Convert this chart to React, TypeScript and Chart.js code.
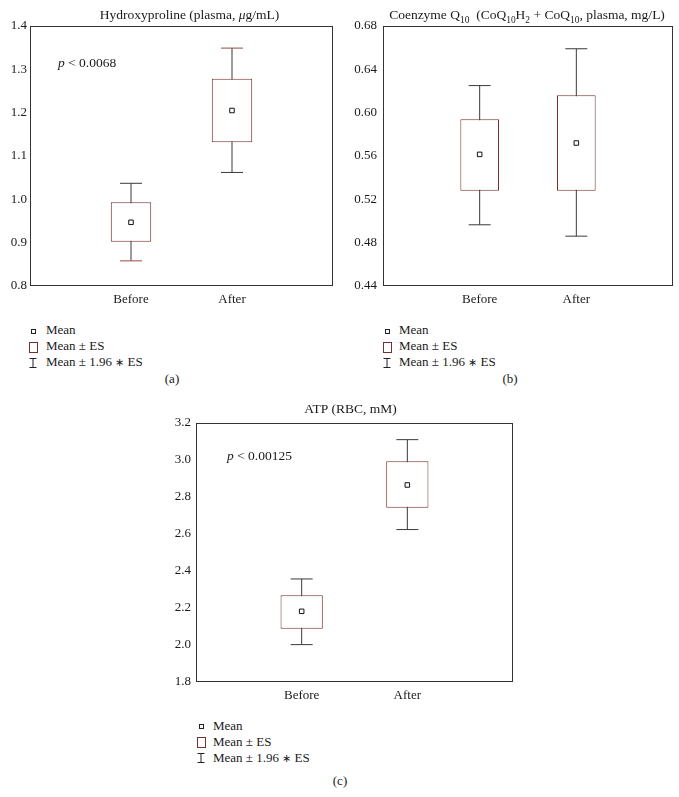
import React, { useEffect, useRef } from 'react';
import { Chart, registerables } from 'chart.js';

Chart.register(...registerables);

const FONT = '"Liberation Serif", "Times New Roman", serif';

// ---------- data ----------
const categories = ['Before', 'After'];

// (a) Hydroxyproline (plasma, µg/mL)
const hypMean = [0.947, 1.205];
const hypBoxLow = [0.902, 1.132];
const hypBoxHigh = [0.993, 1.278];
const hypWhiskLow = [0.858, 1.062];
const hypWhiskHigh = [1.037, 1.349];
const hypTicks = [0.8, 0.9, 1.0, 1.1, 1.2, 1.3, 1.4];

// (b) Coenzyme Q10 (plasma, mg/L)
const coqMean = [0.5615, 0.572];
const coqBoxLow = [0.528, 0.528];
const coqBoxHigh = [0.594, 0.616];
const coqWhiskLow = [0.4965, 0.486];
const coqWhiskHigh = [0.625, 0.659];
const coqTicks = [0.44, 0.48, 0.52, 0.56, 0.6, 0.64, 0.68];

// (c) ATP (RBC, mM)
const atpMean = [2.182, 2.865];
const atpBoxLow = [2.088, 2.742];
const atpBoxHigh = [2.269, 2.993];
const atpWhiskLow = [2.002, 2.624];
const atpWhiskHigh = [2.357, 3.11];
const atpTicks = [1.8, 2.0, 2.2, 2.4, 2.6, 2.8, 3.0, 3.2];

const legendLabels = ['Mean', 'Mean \u00b1 ES', 'Mean \u00b1 1.96 \u2217 ES'];

// ---------- styles ----------
const FRAME = '#333333';
const BOX = '#7a2e2e';
const WHISK = '#3a3a3a';
const CAP_RED = '#9a4848';

type Seg = { text: string; sub?: boolean; italic?: boolean };

function drawSegments(ctx: CanvasRenderingContext2D, segs: Seg[], x: number, y: number, center: boolean, size: number) {
  const fontFor = (s: Seg) => `${s.italic ? 'italic ' : ''}${s.sub ? size * 0.7 : size}px ${FONT}`;
  let total = 0;
  const widths = segs.map((s) => {
    ctx.font = fontFor(s);
    const w = ctx.measureText(s.text).width;
    total += w;
    return w;
  });
  let cx = center ? x - total / 2 : x;
  ctx.fillStyle = '#1a1a1a';
  ctx.textBaseline = 'alphabetic';
  ctx.textAlign = 'left';
  segs.forEach((s, i) => {
    ctx.font = fontFor(s);
    ctx.fillText(s.text, cx, s.sub ? y + size * 0.3 : y);
    cx += widths[i];
  });
}

const frameTitlePlugin = {
  id: 'frameTitle',
  afterDraw(chart: any, _args: any, opts: any) {
    const { ctx, chartArea: a } = chart;
    ctx.save();
    ctx.strokeStyle = FRAME;
    ctx.lineWidth = 1;
    const l = Math.round(a.left) + 0.5;
    const t = Math.round(a.top) + 0.5;
    const r = Math.round(a.right) - 0.5;
    const b = Math.round(a.bottom) - 0.5;
    ctx.strokeRect(l, t, r - l, b - t);
    if (opts.title) {
      drawSegments(ctx, opts.title, (a.left + a.right) / 2 + opts.titleDx, a.top - opts.titleGap, true, 13.5);
    }
    if (opts.note) {
      drawSegments(ctx, opts.note, a.left + opts.noteDx, a.top + opts.noteDy, false, 13.5);
    }
    ctx.restore();
  },
};

type PanelProps = {
  left: number; top: number; width: number; height: number;
  area: { left: number; right: number; top: number; bottom: number };
  ticks: number[]; decimals: number; yPad: number;
  mean: number[]; boxLow: number[]; boxHigh: number[]; whiskLow: number[]; whiskHigh: number[];
  title: Seg[]; titleDx: number; titleGap: number;
  note?: Seg[]; noteDx?: number; noteDy?: number;
  lowCapColors: string[]; highCapColors: string[];
};

function Panel(p: PanelProps) {
  const ref = useRef<HTMLCanvasElement | null>(null);
  useEffect(() => {
    if (!ref.current) return;
    const labels = ['', ...categories, ''];
    const pad = (arr: any[]) => [null, ...arr, null];
    const pairs = (lo: number[], hi: number[]) => pad(lo.map((v, i) => [v, hi[i]]));
    const chart = new Chart(ref.current, {
      type: 'bar',
      data: {
        labels,
        datasets: [
          {
            type: 'line',
            data: pad(p.mean) as any,
            showLine: false,
            pointStyle: 'rect',
            pointRadius: 3.2,
            pointBorderWidth: 1,
            pointBorderColor: '#111',
            pointBackgroundColor: '#fff',
            order: 1,
          } as any,
          {
            type: 'bar',
            data: pairs(p.boxLow, p.boxHigh) as any,
            backgroundColor: '#ffffff',
            borderColor: BOX,
            borderWidth: 1,
            borderSkipped: false,
            grouped: false,
            barPercentage: 0.4,
            categoryPercentage: 1,
            order: 2,
          } as any,
          {
            type: 'line',
            data: pad(p.whiskLow) as any,
            showLine: false,
            pointStyle: 'line',
            pointRadius: 11,
            pointBorderWidth: 1,
            pointBorderColor: pad(p.lowCapColors),
            order: 3,
          } as any,
          {
            type: 'line',
            data: pad(p.whiskHigh) as any,
            showLine: false,
            pointStyle: 'line',
            pointRadius: 11,
            pointBorderWidth: 1,
            pointBorderColor: pad(p.highCapColors),
            order: 3,
          } as any,
          {
            type: 'bar',
            data: pairs(p.whiskLow, p.whiskHigh) as any,
            backgroundColor: WHISK,
            borderWidth: 0,
            grouped: false,
            maxBarThickness: 1,
            barPercentage: 0.4,
            categoryPercentage: 1,
            order: 4,
          } as any,
        ],
      },
      options: {
        responsive: false,
        animation: false,
        devicePixelRatio: 1,
        events: [],
        layout: {
          autoPadding: false,
          padding: { left: 0, top: p.area.top, right: p.width - p.area.right, bottom: 0 },
        },
        plugins: {
          legend: { display: false },
          tooltip: { enabled: false },
          title: { display: false },
          frameTitle: {
            title: p.title, titleDx: p.titleDx, titleGap: p.titleGap,
            note: p.note, noteDx: p.noteDx, noteDy: p.noteDy,
          },
        } as any,
        scales: {
          x: {
            type: 'category',
            offset: false,
            grid: { display: false, drawTicks: false },
            border: { display: false },
            ticks: {
              autoSkip: false,
              maxRotation: 0,
              padding: 6,
              color: '#1a1a1a',
              font: { family: FONT, size: 13 },
            },
            afterFit: (s: any) => { s.height = p.height - p.area.bottom; },
          },
          y: {
            type: 'linear',
            min: p.ticks[0],
            max: p.ticks[p.ticks.length - 1],
            grid: { display: false, drawTicks: false },
            border: { display: false },
            afterBuildTicks: (s: any) => { s.ticks = p.ticks.map((v) => ({ value: v })); },
            ticks: {
              padding: p.yPad,
              color: '#1a1a1a',
              font: { family: FONT, size: 13 },
              callback: (v: any) => Number(v).toFixed(p.decimals),
            },
            afterFit: (s: any) => { s.width = p.area.left; },
          },
        },
      } as any,
      plugins: [frameTitlePlugin],
    });
    return () => chart.destroy();
  }, []);
  return (
    <canvas
      ref={ref}
      width={p.width}
      height={p.height}
      style={{ position: 'absolute', left: p.left, top: p.top, width: p.width, height: p.height }}
    />
  );
}

function Legend({ symX, textX, y0, caption, capX, capY }: { symX: number; textX: number; y0: number; caption: string; capX: number; capY: number }) {
  const rows = [y0, y0 + 16, y0 + 32];
  const textStyle: React.CSSProperties = {
    position: 'absolute', fontFamily: FONT, fontSize: 13, lineHeight: '16px', color: '#1a1a1a', whiteSpace: 'nowrap',
  };
  const renderLabel = (t: string) => {
    const parts = t.split('\u2217');
    if (parts.length === 1) return t;
    return (
      <>
        {parts[0]}
        <span style={{ fontSize: 11 }}>{'\u2217'}</span>
        {parts[1]}
      </>
    );
  };
  return (
    <>
      <div style={{ position: 'absolute', left: symX - 2, top: rows[0] - 2, width: 3, height: 3, border: '1px solid #222', background: '#fff' }} />
      <div style={{ position: 'absolute', left: symX - 4, top: rows[1] - 5, width: 7, height: 9, border: `1px solid ${BOX}`, background: '#fff' }} />
      <svg style={{ position: 'absolute', left: symX - 4, top: rows[2] - 5 }} width={9} height={10}>
        <line x1={0.5} y1={0.5} x2={7.5} y2={0.5} stroke="#222" strokeWidth={1} />
        <line x1={4} y1={0.5} x2={4} y2={9.5} stroke="#222" strokeWidth={1} />
        <line x1={0.5} y1={9.5} x2={7.5} y2={9.5} stroke="#222" strokeWidth={1} />
      </svg>
      {legendLabels.map((t, i) => (
        <div key={t} style={{ ...textStyle, left: textX, top: rows[i] - 8.5 }}>{renderLabel(t)}</div>
      ))}
      <div style={{ ...textStyle, left: capX - 20, width: 40, textAlign: 'center', top: capY - 8.5 }}>{caption}</div>
    </>
  );
}

export default function App() {
  return (
    <div style={{ position: 'absolute', left: 0, top: 0, width: 679, height: 797, background: '#fff', overflow: 'hidden' }}>
      <Panel
        left={0} top={0} width={340} height={320}
        area={{ left: 30, right: 333, top: 26, bottom: 286 }}
        ticks={hypTicks} decimals={1} yPad={3}
        mean={hypMean} boxLow={hypBoxLow} boxHigh={hypBoxHigh} whiskLow={hypWhiskLow} whiskHigh={hypWhiskHigh}
        title={[{ text: 'Hydroxyproline (plasma, ' }, { text: '\u03bc', italic: true }, { text: 'g/mL)' }]}
        titleDx={8} titleGap={7}
        note={[{ text: 'p', italic: true }, { text: ' < 0.0068' }]} noteDx={28} noteDy={41}
        lowCapColors={[CAP_RED, WHISK]} highCapColors={[WHISK, CAP_RED]}
      />
      <Panel
        left={340} top={0} width={339} height={320}
        area={{ left: 43, right: 333, top: 26, bottom: 286 }}
        ticks={coqTicks} decimals={2} yPad={6}
        mean={coqMean} boxLow={coqBoxLow} boxHigh={coqBoxHigh} whiskLow={coqWhiskLow} whiskHigh={coqWhiskHigh}
        title={[
          { text: 'Coenzyme Q' }, { text: '10', sub: true }, { text: '  (CoQ' }, { text: '10', sub: true },
          { text: 'H' }, { text: '2', sub: true }, { text: ' + CoQ' }, { text: '10', sub: true }, { text: ', plasma, mg/L)' },
        ]}
        titleDx={-1} titleGap={7}
        lowCapColors={[WHISK, WHISK]} highCapColors={[WHISK, WHISK]}
      />
      <Panel
        left={150} top={390} width={380} height={320}
        area={{ left: 46, right: 363, top: 33, bottom: 292 }}
        ticks={atpTicks} decimals={1} yPad={5}
        mean={atpMean} boxLow={atpBoxLow} boxHigh={atpBoxHigh} whiskLow={atpWhiskLow} whiskHigh={atpWhiskHigh}
        title={[{ text: 'ATP (RBC, mM)' }]}
        titleDx={-4} titleGap={10}
        note={[{ text: 'p', italic: true }, { text: ' < 0.00125' }]} noteDx={31} noteDy={37}
        lowCapColors={[WHISK, WHISK]} highCapColors={[WHISK, WHISK]}
      />
      <Legend symX={33} textX={46} y0={330.5} caption="(a)" capX={172} capY={379.5} />
      <Legend symX={387} textX={399} y0={330.5} caption="(b)" capX={510} capY={379.5} />
      <Legend symX={201} textX={213} y0={726} caption="(c)" capX={340} capY={781.5} />
    </div>
  );
}
